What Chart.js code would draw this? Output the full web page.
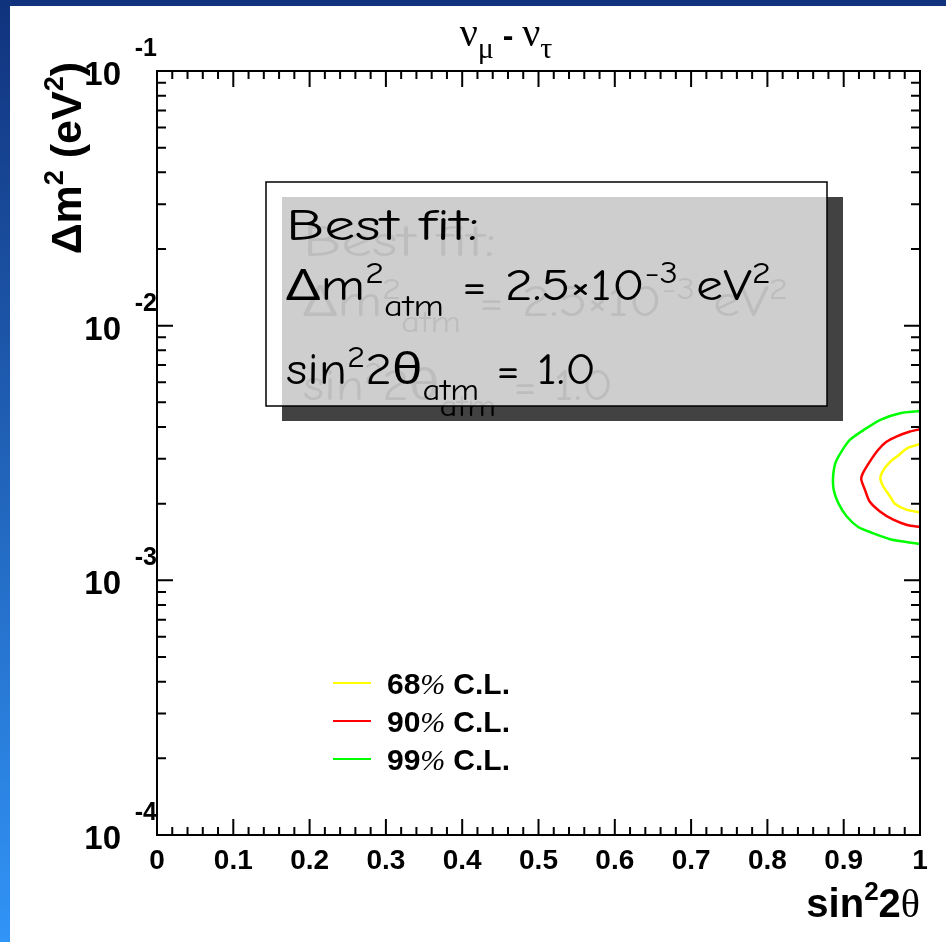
<!DOCTYPE html>
<html>
<head>
<meta charset="utf-8">
<style>
  html, body { margin: 0; padding: 0; background: #fff; }
  #wrap { width: 946px; height: 942px; }
</style>
<script src="https://cdn.jsdelivr.net/npm/chart.js@4/dist/chart.umd.min.js"></script>
</head>
<body>
<div id="wrap"><canvas id="grafico" width="946" height="942"></canvas></div>
<script>
// ticks dos eixos
const xTicks = [0, 0.1, 0.2, 0.3, 0.4, 0.5, 0.6, 0.7, 0.8, 0.9, 1];
const xTickLabels = ['0', '0.1', '0.2', '0.3', '0.4', '0.5', '0.6', '0.7', '0.8', '0.9', '1'];
const yTicks = [1e-4, 1e-3, 1e-2, 1e-1];
const yTickExps = ['-4', '-3', '-2', '-1'];

// contornos (sin^2 2theta, dm^2 em eV^2)
const cl68X = [1.0, 0.983, 0.972, 0.961, 0.952, 0.948, 0.952, 0.961, 0.967, 0.983, 1.0];
const cl68Y = [3.43e-3, 3.30e-3, 3.10e-3, 2.92e-3, 2.71e-3, 2.52e-3, 2.33e-3, 2.13e-3, 2.00e-3, 1.89e-3, 1.85e-3];

const cl90X = [1.0, 0.987, 0.969, 0.956, 0.945, 0.934, 0.925, 0.923, 0.928, 0.934, 0.948, 0.965, 0.983, 1.0];
const cl90Y = [3.92e-3, 3.84e-3, 3.67e-3, 3.50e-3, 3.25e-3, 2.92e-3, 2.63e-3, 2.49e-3, 2.26e-3, 2.04e-3, 1.86e-3, 1.73e-3, 1.65e-3, 1.62e-3];

const cl99X = [1.0, 0.974, 0.948, 0.926, 0.908, 0.897, 0.889, 0.886, 0.887, 0.893, 0.904, 0.919, 0.939, 0.961, 0.978, 1.0];
const cl99Y = [4.62e-3, 4.53e-3, 4.27e-3, 3.89e-3, 3.56e-3, 3.20e-3, 2.88e-3, 2.52e-3, 2.26e-3, 2.01e-3, 1.78e-3, 1.62e-3, 1.53e-3, 1.45e-3, 1.42e-3, 1.39e-3];

const clNumeros = ['68', '90', '99'];
const clCores = ['#ffff00', '#ff0000', '#00ff00'];

function pontos(xs, ys) {
  return xs.map((x, i) => ({ x: x, y: ys[i] }));
}

// desenha texto em pedaços (sobrescritos / subscritos)
function larguraRuns(ctx, runs) {
  let w = 0;
  runs.forEach(r => { ctx.font = r.font; w += ctx.measureText(r.t).width + (r.gap || 0); });
  return w;
}
function desenharRuns(ctx, x, y, runs, cor) {
  ctx.fillStyle = cor || '#000';
  ctx.textAlign = 'left';
  ctx.textBaseline = 'alphabetic';
  runs.forEach(r => {
    ctx.font = r.font;
    ctx.fillText(r.t, x, y + (r.dy || 0));
    x += ctx.measureText(r.t).width + (r.gap || 0);
  });
}
// texto esticado na horizontal para ocupar uma largura dada
function desenharRunsLargura(ctx, x, y, runs, cor, largura) {
  const w = larguraRuns(ctx, runs);
  ctx.save();
  ctx.translate(x, y);
  ctx.scale(largura / w, 1);
  desenharRuns(ctx, 0, 0, runs, cor);
  ctx.restore();
}

const fundoPlugin = {
  id: 'fundo',
  beforeDraw(chart) {
    const ctx = chart.ctx;
    const g = ctx.createLinearGradient(0, 0, 0, chart.height);
    g.addColorStop(0, '#11337d');
    g.addColorStop(1, '#3194f7');
    ctx.save();
    ctx.fillStyle = g;
    ctx.fillRect(0, 0, chart.width, chart.height);
    ctx.fillStyle = '#ffffff';
    ctx.fillRect(10, 6, chart.width - 10, chart.height - 6);
    ctx.restore();
  }
};

const eixosPlugin = {
  id: 'eixos',
  afterDatasetsDraw(chart) {
    const ctx = chart.ctx;
    const a = chart.chartArea;
    const sx = chart.scales.x, sy = chart.scales.y;
    ctx.save();
    ctx.strokeStyle = '#000';
    ctx.lineWidth = 2;
    ctx.strokeRect(a.left, a.top, a.right - a.left, a.bottom - a.top);

    ctx.beginPath();
    // eixo x: maiores a cada 0.1, menores a cada 0.02
    for (let i = 0; i < xTicks.length; i++) {
      const px = sx.getPixelForValue(xTicks[i]);
      ctx.moveTo(px, a.bottom); ctx.lineTo(px, a.bottom - 16);
      ctx.moveTo(px, a.top); ctx.lineTo(px, a.top + 16);
      if (i < xTicks.length - 1) {
        for (let k = 1; k < 5; k++) {
          const v = xTicks[i] + (xTicks[i + 1] - xTicks[i]) * k / 5;
          const pm = sx.getPixelForValue(v);
          ctx.moveTo(pm, a.bottom); ctx.lineTo(pm, a.bottom - 8);
          ctx.moveTo(pm, a.top); ctx.lineTo(pm, a.top + 8);
        }
      }
    }
    // eixo y log
    for (let i = 0; i < yTicks.length; i++) {
      const py = sy.getPixelForValue(yTicks[i]);
      ctx.moveTo(a.left, py); ctx.lineTo(a.left + 16, py);
      ctx.moveTo(a.right, py); ctx.lineTo(a.right - 16, py);
      if (i < yTicks.length - 1) {
        for (let k = 2; k < 10; k++) {
          const pm = sy.getPixelForValue(yTicks[i] * k);
          ctx.moveTo(a.left, pm); ctx.lineTo(a.left + 9, pm);
          ctx.moveTo(a.right, pm); ctx.lineTo(a.right - 9, pm);
        }
      }
    }
    ctx.stroke();

    const bold = '"Liberation Sans", Arial, sans-serif';
    const serif = '"Liberation Serif", "Times New Roman", serif';

    // labels x
    ctx.fillStyle = '#000';
    ctx.font = 'bold 28px ' + bold;
    ctx.textAlign = 'center';
    ctx.textBaseline = 'alphabetic';
    xTicks.forEach((v, i) => {
      ctx.fillText(xTickLabels[i], sx.getPixelForValue(v), a.bottom + 34);
    });
    // labels y
    yTicks.forEach((v, i) => {
      const py = sy.getPixelForValue(v);
      ctx.textAlign = 'right';
      ctx.font = 'bold 33px ' + bold;
      ctx.fillText('10', 121, py + 14);
      ctx.font = 'bold 25px ' + bold;
      ctx.fillText(yTickExps[i], 157, py - 15);
    });

    // titulo
    const titulo = [
      { t: '\u03bd', font: '40px ' + serif },
      { t: '\u03bc', font: '30px ' + serif, dy: 12 },
      { t: ' - ', font: 'bold 32px ' + bold },
      { t: '\u03bd', font: '40px ' + serif },
      { t: '\u03c4', font: '30px ' + serif, dy: 12 }
    ];
    const wt = larguraRuns(ctx, titulo);
    desenharRuns(ctx, 506 - wt / 2, 46, titulo);

    // titulo eixo x
    const tx = [
      { t: 'sin', font: 'bold 40px ' + bold },
      { t: '2', font: 'bold 26px ' + bold, dy: -17 },
      { t: '2', font: 'bold 40px ' + bold },
      { t: '\u03b8', font: '40px ' + serif }
    ];
    const wx = larguraRuns(ctx, tx);
    desenharRuns(ctx, 920 - wx, 917, tx);

    // titulo eixo y (rodado)
    const ty = [
      { t: '\u0394m', font: 'bold 43px ' + bold },
      { t: '2', font: 'bold 27px ' + bold, dy: -18 },
      { t: ' (eV', font: 'bold 43px ' + bold },
      { t: '2', font: 'bold 27px ' + bold, dy: -18 },
      { t: ')', font: 'bold 43px ' + bold }
    ];
    const wy = larguraRuns(ctx, ty);
    ctx.save();
    ctx.translate(81, 62 + wy);
    ctx.rotate(-Math.PI / 2);
    desenharRuns(ctx, 0, 0, ty);
    ctx.restore();

    // legenda
    chart.data.datasets.forEach((ds, i) => {
      const ly = 683 + i * 38;
      ctx.strokeStyle = ds.borderColor;
      ctx.lineWidth = 2;
      ctx.beginPath();
      ctx.moveTo(333, ly); ctx.lineTo(371, ly);
      ctx.stroke();
      desenharRuns(ctx, 387, ly + 11, [
        { t: clNumeros[i], font: 'bold 30px ' + bold },
        { t: '%', font: 'italic 30px ' + serif, gap: 8 },
        { t: 'C.L.', font: 'bold 30px ' + bold }
      ]);
    });

    // caixa "Best fit"
    const comic = '"Comic Sans MS", "Comic Neue", "Noto Sans", sans-serif';
    const fs = 44, fp = 30;
    const linhas = [
      { y: 240, w: 193, runs: [{ t: 'Best fit:', font: fs + 'px ' + comic }] },
      { y: 300, w: 485, runs: [
        { t: '\u0394m', font: fs + 'px ' + comic },
        { t: '2', font: fp + 'px ' + comic, dy: -17 },
        { t: 'atm', font: fp + 'px ' + comic, dy: 16 },
        { t: ' = 2.5\u00d710', font: fs + 'px ' + comic },
        { t: '-3', font: fp + 'px ' + comic, dy: -17 },
        { t: ' eV', font: fs + 'px ' + comic },
        { t: '2', font: fp + 'px ' + comic, dy: -17 }
      ] },
      { y: 384, w: 310, runs: [
        { t: 'sin', font: fs + 'px ' + comic },
        { t: '2', font: fp + 'px ' + comic, dy: -17 },
        { t: '2\u03b8', font: fs + 'px ' + comic },
        { t: 'atm', font: fp + 'px ' + comic, dy: 16 },
        { t: ' = 1.0', font: fs + 'px ' + comic }
      ] }
    ];
    ctx.fillStyle = '#424242';
    ctx.fillRect(282, 197, 561, 224);
    linhas.forEach(l => desenharRunsLargura(ctx, 303, l.y + 16, l.runs, '#000', l.w));
    ctx.fillStyle = 'rgba(255,255,255,0.74)';
    ctx.fillRect(266, 182, 561, 224);
    ctx.strokeStyle = '#000';
    ctx.lineWidth = 1.5;
    ctx.strokeRect(266, 182, 561, 224);
    linhas.forEach(l => desenharRunsLargura(ctx, 286, l.y, l.runs, '#000', l.w));

    ctx.restore();
  }
};

window.addEventListener('DOMContentLoaded', () => {
  const ctx = document.getElementById('grafico').getContext('2d');
  const series = [pontos(cl68X, cl68Y), pontos(cl90X, cl90Y), pontos(cl99X, cl99Y)];

  new Chart(ctx, {
    type: 'scatter',
    data: {
      datasets: series.map((d, i) => ({
        label: clNumeros[i] + '% C.L.',
        data: d,
        showLine: true,
        borderColor: clCores[i],
        backgroundColor: clCores[i],
        borderWidth: 2.5,
        pointRadius: 0,
        tension: 0.25
      }))
    },
    options: {
      responsive: false,
      animation: false,
      devicePixelRatio: 1,
      layout: { padding: { left: 157, top: 71, right: 26, bottom: 107 } },
      plugins: { legend: { display: false }, tooltip: { enabled: false } },
      scales: {
        x: { type: 'linear', min: 0, max: 1, display: false },
        y: { type: 'logarithmic', min: 1e-4, max: 1e-1, display: false }
      }
    },
    plugins: [fundoPlugin, eixosPlugin]
  });
});
</script>
</body>
</html>
